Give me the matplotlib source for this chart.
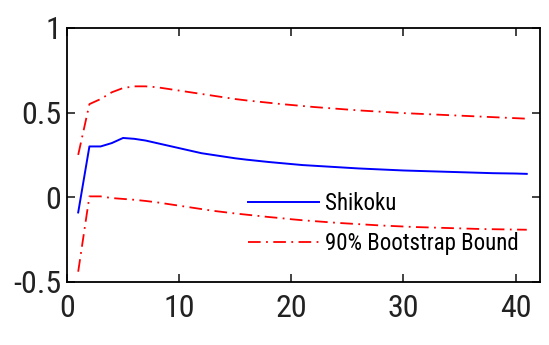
import numpy as np
import matplotlib.pyplot as plt

# data
h = np.arange(1, 42)
shikoku = [-0.09, 0.30, 0.30, 0.32, 0.35, 0.345, 0.335, 0.32, 0.305, 0.29,
           0.275, 0.26, 0.25, 0.24, 0.23, 0.222, 0.215, 0.208, 0.202, 0.196,
           0.19, 0.186, 0.182, 0.178, 0.174, 0.17, 0.167, 0.164, 0.161, 0.158,
           0.156, 0.154, 0.152, 0.15, 0.148, 0.146, 0.144, 0.142, 0.141, 0.14, 0.138]
upper = [0.25, 0.55, 0.58, 0.62, 0.645, 0.655, 0.655, 0.65, 0.64, 0.63,
         0.62, 0.61, 0.60, 0.59, 0.58, 0.572, 0.565, 0.558, 0.551, 0.545,
         0.539, 0.533, 0.528, 0.523, 0.518, 0.513, 0.509, 0.505, 0.501, 0.497,
         0.494, 0.491, 0.488, 0.485, 0.482, 0.479, 0.476, 0.473, 0.47, 0.467, 0.464]
lower = [-0.44, 0.005, 0.005, -0.005, -0.01, -0.015, -0.022, -0.03, -0.04, -0.05,
         -0.06, -0.07, -0.08, -0.088, -0.096, -0.103, -0.11, -0.117, -0.123, -0.13,
         -0.136, -0.141, -0.146, -0.151, -0.155, -0.159, -0.163, -0.167, -0.17, -0.173,
         -0.176, -0.178, -0.18, -0.182, -0.184, -0.186, -0.188, -0.189, -0.19, -0.191, -0.192]
xticks = [0, 10, 20, 30, 40]
yticks = [-0.5, 0, 0.5, 1]
ytick_labels = ["-0.5", "0", "0.5", "1"]

plt.rcParams['font.family'] = ['Roboto Condensed', 'Liberation Sans', 'DejaVu Sans']

fig = plt.figure(figsize=(5.49, 3.45), dpi=100)
ax = fig.add_axes([0.122, 0.183, 0.862, 0.736])

ax.plot(h, shikoku, color="blue", lw=1.4, label="Shikoku")
ax.plot(h, upper, color="red", lw=1.3, dashes=(7, 3, 1, 3), label="90% Bootstrap Bound")
ax.plot(h, lower, color="red", lw=1.3, dashes=(7, 3, 1, 3))

ax.set_xlim(0, 42.2)
ax.set_ylim(-0.5, 1)
ax.set_xticks(xticks)
ax.set_yticks(yticks)
ax.set_yticklabels(ytick_labels)
ax.tick_params(direction="in", length=6, width=1.2, top=True, right=True,
               labelsize=23, colors="#222222")
ax.tick_params(axis="x", pad=9)
ax.tick_params(axis="y", pad=4)
for s in ax.spines.values():
    s.set_linewidth(1.3)

ax.legend(loc="upper left", bbox_to_anchor=(0.383, 0.355), frameon=False,
          borderaxespad=0, borderpad=0, fontsize=16.5, handlelength=3.1,
          handletextpad=0.25, labelspacing=0.75)

fig.savefig("out.png", dpi=100)
